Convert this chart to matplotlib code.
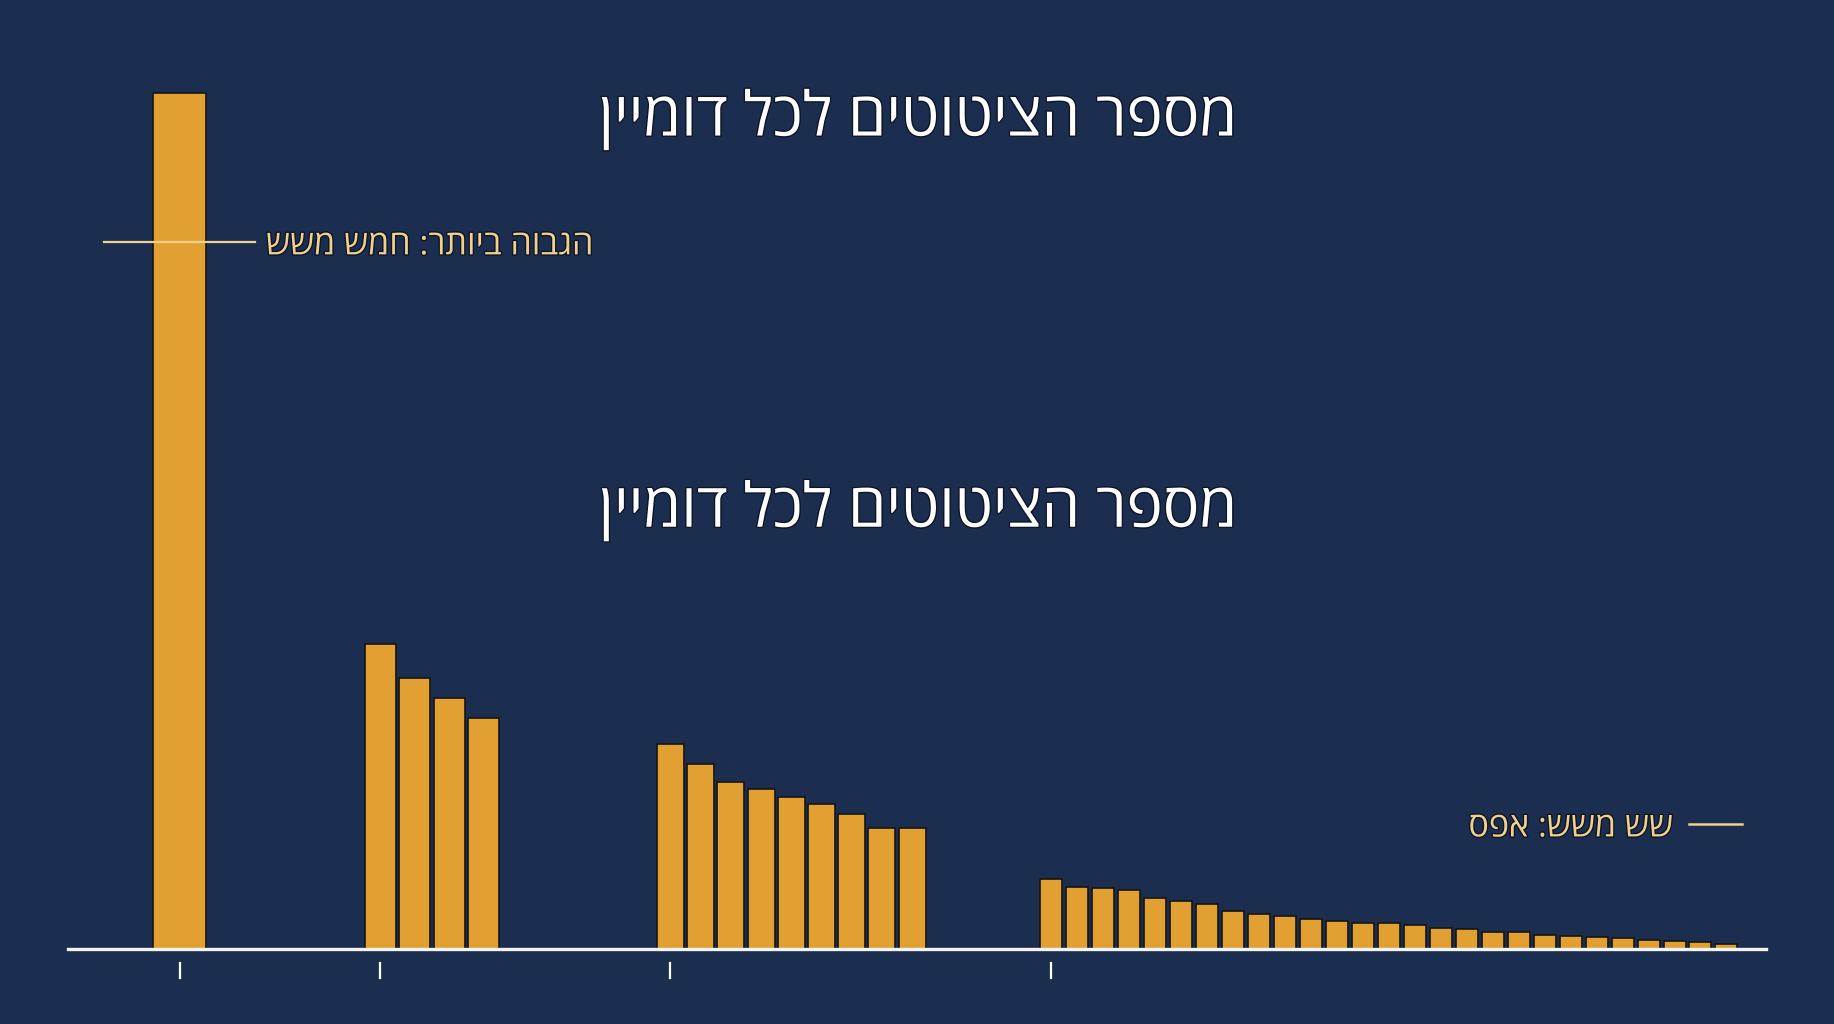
import matplotlib
matplotlib.use('Agg')
import matplotlib.pyplot as plt
import matplotlib.patheffects as pe
import numpy as np

# citations per domain, relative to the top domain (=100), four groups
group1 = [100.0]
group2 = [35.6, 31.7, 29.3, 27.0]
group3 = [23.9, 21.6, 19.5, 18.7, 17.8, 16.9, 15.8, 14.1, 14.1]
group4 = [8.2, 7.3, 7.1, 6.9, 5.9, 5.6, 5.2, 4.4, 4.1, 3.8, 3.5, 3.3, 3.0, 3.0,
          2.8, 2.4, 2.3, 2.0, 1.95, 1.6, 1.5, 1.4, 1.25, 1.1, 0.9, 0.85, 0.6]
groups = [group1, group2, group3, group4]

title_text = 'מספר הציטוטים לכל דומיין'
top_label = 'הגבוה ביותר: חמש משש'
top_level = 82.6
low_label = 'שש משש: אפס'
low_level = 14.6

# layout (x in axis units)
first_centre = [179.5, 380.5, 670.5, 1051.5]
pitch = [0, 34.3, 30.2, 25.96]
width = [53, 31, 27, 22]

BG = '#1c2e50'
BAR = '#e2a033'
GOLD = '#f0d08c'

def rtl(s):
    # matplotlib lays text out left to right, so flip the Hebrew by hand
    return s[::-1]

plt.rcParams['font.family'] = ['Open Sans', 'DejaVu Sans']

fig = plt.figure(figsize=(18.34, 10.24), dpi=100, facecolor=BG)
ax = fig.add_axes([68/1834, 75/1024, (1766-68)/1834, 949/1024])
ax.set_facecolor(BG)

for g, vals in enumerate(groups):
    xs = first_centre[g] + pitch[g]*np.arange(len(vals))
    ax.bar(xs, vals, width=width[g], color=BAR, edgecolor='#151515', linewidth=1.2, zorder=2)
    ax.plot([first_centre[g]]*2, [-0.0148, -0.0306], color='white', lw=1.6,
            transform=ax.get_xaxis_transform(), clip_on=False)

ax.set_xlim(68, 1766)
ax.set_ylim(0, 100*949/856)
for s in ['top', 'right', 'left']:
    ax.spines[s].set_visible(False)
ax.spines['bottom'].set_color('#f4f4f4')
ax.spines['bottom'].set_linewidth(2.4)
ax.set_xticks([])
ax.set_yticks([])

shadow = [pe.withStroke(linewidth=2, foreground='#0d1526')]

ax.plot([103.6, 254.6], [top_level]*2, color=GOLD, lw=1.6, zorder=3)
ax.text(266, top_level - 0.4, rtl(top_label), color=GOLD, fontsize=24.5, ha='left', va='center',
        path_effects=shadow)
ax.plot([1689, 1742], [low_level]*2, color=GOLD, lw=1.8, zorder=3)
ax.text(1673, low_level - 0.4, rtl(low_label), color=GOLD, fontsize=24.5, ha='right', va='center',
        path_effects=shadow)

for y in [0.883, 0.501]:
    fig.text(918/1834, y, rtl(title_text), color='white', fontsize=44, ha='center', va='center',
             path_effects=shadow)

fig.savefig('out.png', dpi=100, facecolor=BG)
